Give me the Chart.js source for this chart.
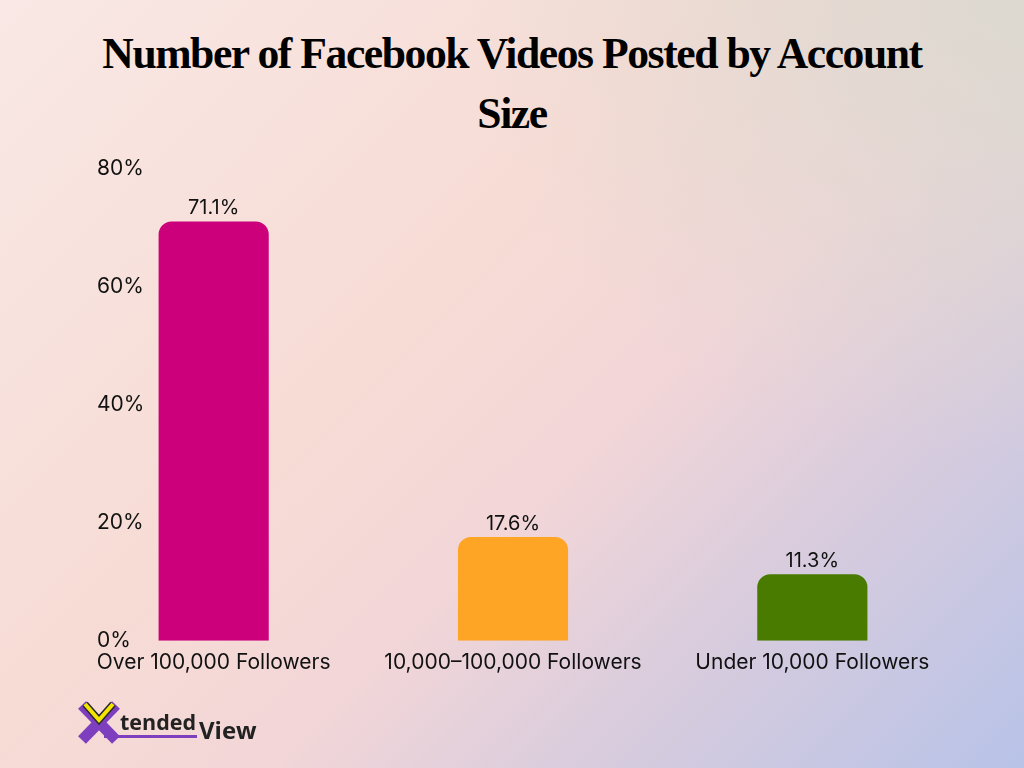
<!DOCTYPE html>
<html>
<head>
<meta charset="utf-8">
<script src="https://cdn.jsdelivr.net/npm/chart.js@4.4.1/dist/chart.umd.min.js"></script>
<style>
  html, body { margin: 0; padding: 0; }
  body {
    width: 1024px; height: 768px; overflow: hidden; position: relative;
    background:
      radial-gradient(ellipse 55% 60% at 100% 0%, rgba(220,217,208,1) 0%, rgba(220,217,208,0) 100%),
      linear-gradient(135deg, #F9E8E5 0%, #F7DCD5 40%, #F2D6D8 58%, #D9CCDD 75%, #B8C3E8 100%);
  }
  #title {
    position: absolute; left: 0; top: 23px; width: 1024px;
    text-align: center; font-family: "Liberation Serif", serif; font-weight: bold;
    font-size: 45px; line-height: 60px; color: #000; letter-spacing: -1.5px;
    transform: scaleX(0.97); transform-origin: 512px 0;
  }
  #wrap { position: absolute; left: 0; top: 0; width: 1024px; height: 768px; }
  #logo { position: absolute; left: 74px; top: 700px; }
</style>
</head>
<body>
<div id="title">Number of Facebook Videos Posted by Account<br>Size</div>
<div id="wrap"><canvas id="c" width="1024" height="768"></canvas></div>
<svg id="logo" width="200" height="46" viewBox="0 0 200 46">
  <line x1="8" y1="5" x2="42" y2="40" stroke="#7E3FBF" stroke-width="11"/>
  <line x1="42" y1="5" x2="8" y2="40" stroke="#7E3FBF" stroke-width="11"/>
  <polyline points="11,4 25,20 39,4" fill="none" stroke="#2a2a2a" stroke-width="7"/>
  <polyline points="11,4 25,20 39,4" fill="none" stroke="#F3E500" stroke-width="4"/>
  <rect x="30" y="35" width="93" height="3" fill="#7E3FBF"/>
  <text x="46" y="30" font-family="Open Sans" font-weight="bold" font-size="21.5" fill="#222">tended</text>
  <text x="125" y="39" font-family="Open Sans" font-weight="bold" font-size="24" fill="#222">View</text>
</svg>
<script>
const categories = ["Over 100,000 Followers", "10,000\u2013100,000 Followers", "Under 10,000 Followers"];
const values = [71.1, 17.6, 11.3];
const barColors = ["#CC007A", "#FFA526", "#487B00"];
const yTicks = [0, 20, 40, 60, 80];

const valueLabels = {
  id: 'valueLabels',
  afterDatasetsDraw(chart) {
    const ctx = chart.ctx;
    const meta = chart.getDatasetMeta(0);
    ctx.save();
    ctx.font = '20px Inter';
    ctx.fillStyle = '#111';
    ctx.textAlign = 'center';
    ctx.textBaseline = 'alphabetic';
    meta.data.forEach((bar, i) => {
      ctx.fillText(values[i].toFixed(1) + '%', bar.x, bar.y - 7);
    });
    ctx.restore();
  }
};

new Chart(document.getElementById('c'), {
  type: 'bar',
  data: {
    labels: categories,
    datasets: [{
      data: values,
      backgroundColor: barColors,
      borderRadius: { topLeft: 13, topRight: 13, bottomLeft: 0, bottomRight: 0 },
      borderSkipped: 'bottom',
      categoryPercentage: 1,
      barPercentage: 0.368
    }]
  },
  options: {
    responsive: false,
    animation: false,
    events: [],
    layout: { padding: { left: 64, right: 62, top: 169, bottom: 84 } },
    plugins: { legend: { display: false }, title: { display: false }, tooltip: { enabled: false } },
    scales: {
      x: {
        grid: { display: false, drawTicks: false },
        border: { display: false },
        ticks: { color: '#111', font: { family: 'Inter', size: 21 }, padding: 9, maxRotation: 0, autoSkip: false }
      },
      y: {
        min: 0, max: 80,
        afterFit(scale) { scale.width = 0; },
        afterBuildTicks(scale) { scale.ticks = yTicks.map(v => ({ value: v })); },
        grid: { display: false, drawTicks: false },
        border: { display: false },
        ticks: { mirror: true, padding: 33, color: '#111', font: { family: 'Inter', size: 21 }, callback: v => v + '%' }
      }
    }
  },
  plugins: [valueLabels]
});
</script>
</body>
</html>
